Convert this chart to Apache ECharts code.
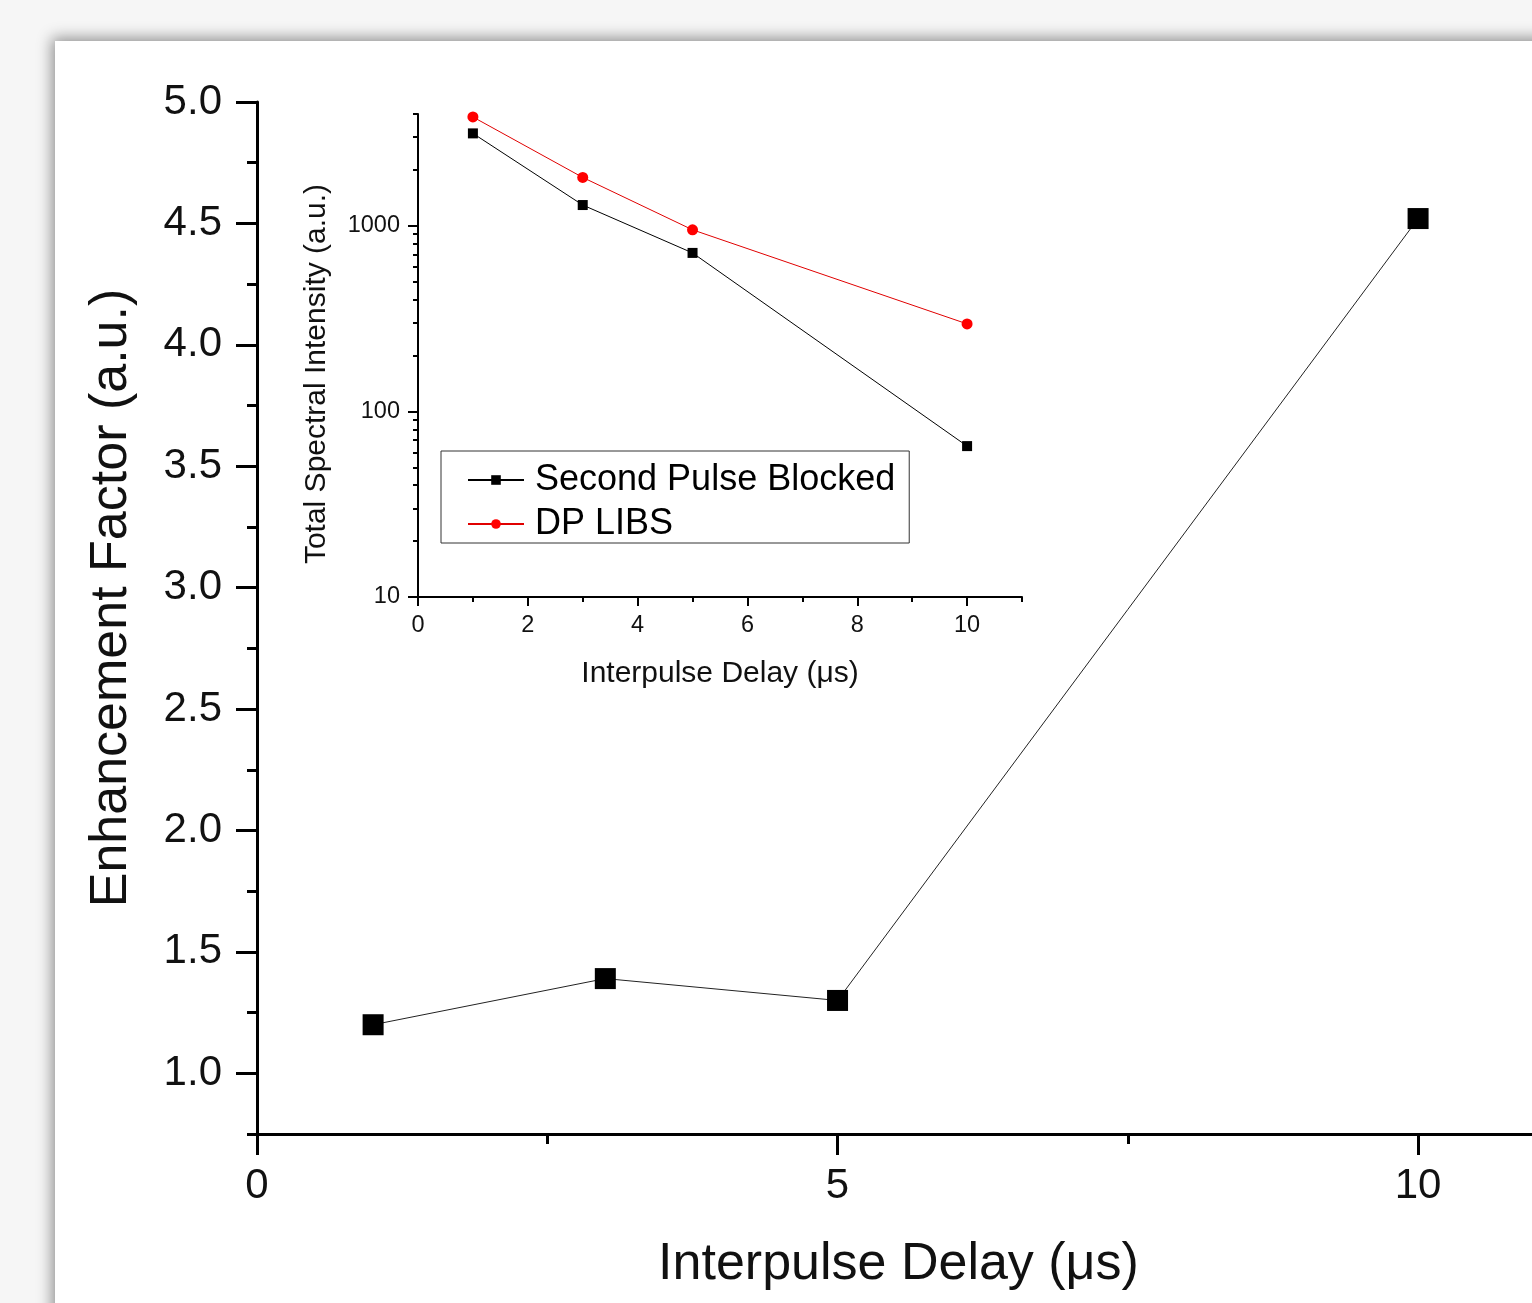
<!DOCTYPE html>
<html>
<head>
<meta charset="utf-8">
<title>Enhancement Factor vs Interpulse Delay</title>
<script src="https://cdn.jsdelivr.net/npm/echarts@6/dist/echarts.min.js"></script>
<style>
  html, body { margin: 0; padding: 0; width: 1532px; height: 1303px; overflow: hidden; background: #f6f6f6; }
  .panel {
    position: absolute; left: 55px; top: 41px; width: 1600px; height: 1400px;
    background: #ffffff;
    box-shadow: 0 0 14px 3px rgba(0, 0, 0, 0.42);
  }
  #chart { position: absolute; left: 0; top: 0; width: 1532px; height: 1303px; }
</style>
</head>
<body>
<div class="panel"></div>
<div id="chart"></div>
<script>
// main plot: enhancement factor
const mainDelay = [1, 3, 5, 10];
const enhancement = [1.20, 1.39, 1.30, 4.52];
const mainXMajor = [0, 5, 10];
const mainYMajor = [1.0, 1.5, 2.0, 2.5, 3.0, 3.5, 4.0, 4.5, 5.0];

// inset: total spectral intensity (log)
const insetDelay = [1, 3, 5, 10];
const blocked = [3145, 1293, 714, 65];
const dpLibs = [3855, 1821, 951, 296];
const insetXMajor = [0, 2, 4, 6, 8, 10];
const insetYMajor = [10, 100, 1000];
const insetYMinor = [20, 30, 40, 50, 60, 70, 80, 90, 200, 300, 400, 500, 600, 700, 800, 900, 2000, 3000, 4000];

const FONT = '"Liberation Sans", Arial, sans-serif';

const chart = echarts.init(document.getElementById('chart'), null, { renderer: 'canvas' });

const option = {
  backgroundColor: 'transparent',
  animation: false,
  grid: [
    // x runs 0..11.05 so the end tick falls off the right edge
    { left: 257, top: 102, width: 1283, height: 1032, outerBoundsMode: 'none' },
    { left: 418, top: 114, width: 604, height: 483, outerBoundsMode: 'none' }
  ],
  legend: {
    data: ['Second Pulse Blocked', 'DP LIBS'],
    orient: 'vertical',
    left: 441,
    top: 451,
    padding: [10, 14, 0, 26],
    itemGap: 6,
    itemWidth: 56,
    itemHeight: 12,
    borderColor: '#333',
    borderWidth: 1,
    backgroundColor: '#fff',
    textStyle: { fontFamily: FONT, fontSize: 36, color: '#000', lineHeight: 38, padding: [0, 0, 0, 6] }
  },
  xAxis: [
    {
      // main, long ticks + labels
      type: 'value', gridIndex: 0, position: 'bottom', min: 0, max: 11.05, interval: 2.5,
      name: 'Interpulse Delay (μs)', nameLocation: 'middle', nameGap: 105,
      nameTextStyle: { fontFamily: FONT, fontSize: 52, color: '#111' },
      axisLine: { onZero: false, lineStyle: { color: '#000', width: 3 } },
      axisTick: { customValues: mainXMajor, length: 21, lineStyle: { color: '#000', width: 3 } },
      axisLabel: { customValues: mainXMajor, margin: 31, fontFamily: FONT, fontSize: 42, color: '#111' },
      splitLine: { show: false }
    },
    {
      // inset, long ticks + labels
      type: 'value', gridIndex: 1, position: 'bottom', min: 0, max: 11, interval: 1,
      name: 'Interpulse Delay (μs)', nameLocation: 'middle', nameGap: 62,
      nameTextStyle: { fontFamily: FONT, fontSize: 30, color: '#111' },
      axisLine: { onZero: false, lineStyle: { color: '#000', width: 2 } },
      axisTick: { customValues: insetXMajor, length: 9, lineStyle: { color: '#000', width: 2 } },
      axisLabel: { customValues: insetXMajor, margin: 17, fontFamily: FONT, fontSize: 23.5, color: '#111' },
      splitLine: { show: false }
    },
    {
      // main, short ticks
      type: 'value', gridIndex: 0, position: 'bottom', min: 0, max: 11.05, interval: 2.5,
      axisLine: { show: false, onZero: false },
      axisTick: { length: 10, lineStyle: { color: '#000', width: 3 } },
      axisLabel: { show: false },
      splitLine: { show: false }
    },
    {
      // inset, short ticks
      type: 'value', gridIndex: 1, position: 'bottom', min: 0, max: 11, interval: 1,
      axisLine: { show: false, onZero: false },
      axisTick: { length: 5, lineStyle: { color: '#000', width: 2 } },
      axisLabel: { show: false },
      splitLine: { show: false }
    }
  ],
  yAxis: [
    {
      type: 'value', gridIndex: 0, position: 'left', min: 0.75, max: 5, interval: 0.25,
      name: 'Enhancement Factor (a.u.)', nameLocation: 'middle', nameGap: 119,
      nameTextStyle: { fontFamily: FONT, fontSize: 52, color: '#111', padding: [0, 0, 0, 40] },
      axisLine: { onZero: false, lineStyle: { color: '#000', width: 3 } },
      axisTick: { customValues: mainYMajor, length: 21, lineStyle: { color: '#000', width: 3 } },
      axisLabel: {
        customValues: mainYMajor, margin: 35, fontFamily: FONT, fontSize: 42, color: '#111',
        formatter: v => v.toFixed(1)
      },
      splitLine: { show: false }
    },
    {
      type: 'log', logBase: 10, gridIndex: 1, position: 'left', min: 10, max: 4000,
      name: 'Total Spectral Intensity (a.u.)', nameLocation: 'middle', nameGap: 86,
      nameTextStyle: { fontFamily: FONT, fontSize: 30, color: '#111', padding: [0, 37, 0, 0] },
      axisLine: { onZero: false, lineStyle: { color: '#000', width: 2 } },
      axisTick: { customValues: insetYMajor, length: 10, lineStyle: { color: '#000', width: 2 } },
      axisLabel: {
        customValues: insetYMajor, margin: 18, fontFamily: FONT, fontSize: 23.5, color: '#111',
        formatter: v => String(Math.round(v))
      },
      splitLine: { show: false }
    },
    {
      type: 'value', gridIndex: 0, position: 'left', min: 0.75, max: 5, interval: 0.25,
      axisLine: { show: false, onZero: false },
      axisTick: { length: 10, lineStyle: { color: '#000', width: 3 } },
      axisLabel: { show: false },
      splitLine: { show: false }
    },
    {
      type: 'log', logBase: 10, gridIndex: 1, position: 'left', min: 10, max: 4000,
      axisLine: { show: false, onZero: false },
      axisTick: { customValues: insetYMinor, length: 5, lineStyle: { color: '#000', width: 2 } },
      axisLabel: { show: false },
      splitLine: { show: false }
    }
  ],
  series: [
    {
      name: 'Enhancement Factor',
      type: 'line',
      xAxisIndex: 0, yAxisIndex: 0,
      data: mainDelay.map((x, i) => [x, enhancement[i]]),
      symbol: 'rect', symbolSize: 21,
      itemStyle: { color: '#000' },
      lineStyle: { color: '#222', width: 1 }
    },
    {
      name: 'Second Pulse Blocked',
      type: 'line',
      xAxisIndex: 1, yAxisIndex: 1,
      data: insetDelay.map((x, i) => [x, blocked[i]]),
      symbol: 'rect', symbolSize: 10,
      itemStyle: { color: '#000' },
      lineStyle: { color: '#000', width: 1 }
    },
    {
      name: 'DP LIBS',
      type: 'line',
      xAxisIndex: 1, yAxisIndex: 1,
      data: insetDelay.map((x, i) => [x, dpLibs[i]]),
      symbol: 'circle', symbolSize: 11,
      itemStyle: { color: '#ff0000' },
      lineStyle: { color: '#e00000', width: 1 }
    }
  ]
};

chart.setOption(option);
</script>
</body>
</html>
